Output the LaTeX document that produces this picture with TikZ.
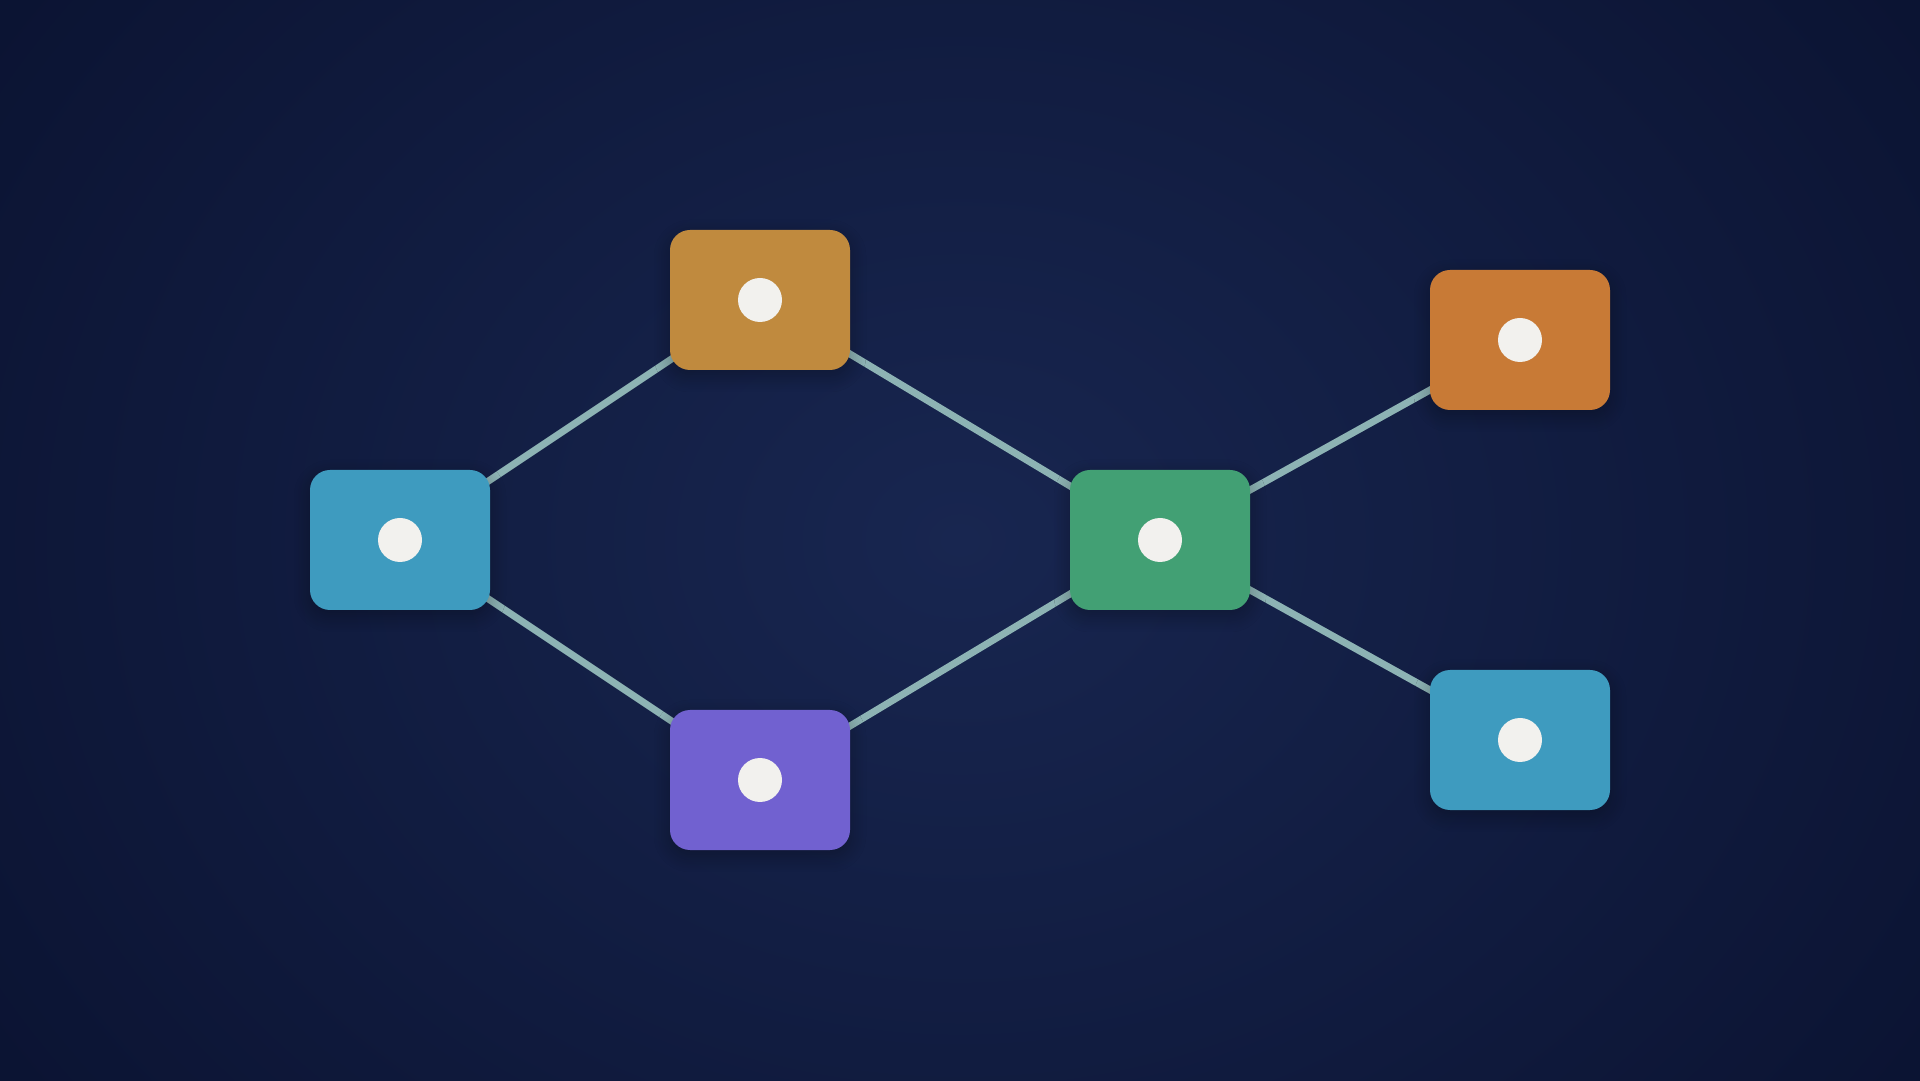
\documentclass[tikz,border=0pt]{standalone}
\usepackage{xcolor}
\usetikzlibrary{positioning,backgrounds,shadows.blur}

\definecolor{bgcenter}{HTML}{182650}
\definecolor{bgedge}{HTML}{0A1230}
\definecolor{linkcol}{HTML}{8DB3B4}
\definecolor{dotwhite}{HTML}{F2F1EE}
\definecolor{cblue}{HTML}{3E9BBF}
\definecolor{corange}{HTML}{C08A3E}
\definecolor{cpumpkin}{HTML}{C87A36}
\definecolor{cgreen}{HTML}{42A074}
\definecolor{cpurple}{HTML}{7161D0}

\begin{document}
\begin{tikzpicture}[x=1pt,y=1pt,node distance=360pt,on grid,
   box/.style={rectangle, rounded corners=20pt, minimum width=180pt, minimum height=140pt,
      inner sep=0pt, blur shadow={shadow xshift=0pt, shadow yshift=-6pt, shadow blur radius=16pt,
      shadow blur steps=10, shadow opacity=30},
      path picture={\fill[dotwhite] (path picture bounding box.center) circle (22pt);}},
   link/.style={linkcol, line width=7pt}]
   \useasboundingbox (0,0) rectangle (1920,1080);
   \node[box, fill=cblue] (L) at (400,540) {};
   \node[box, fill=corange] (T) [above right=240pt and 360pt of L] {};
   \node[box, fill=cpurple] (P) [below right=240pt and 360pt of L] {};
   \node[box, fill=cgreen] (G) [right=760pt of L] {};
   \node[box, fill=cpumpkin] (RT) [above right=200pt and 360pt of G] {};
   \node[box, fill=cblue] (RB) [below right=200pt and 360pt of G] {};
   \begin{pgfonlayer}{background}
   % background with vignette
   \shade[inner color=bgcenter, outer color=bgedge] (-300,-500) rectangle (2220,1580);
   \draw[link] (L.center) -- (T.center)
               (L.center) -- (P.center)
               (T.center) -- (G.center)
               (P.center) -- (G.center)
               (G.center) -- (RT.center)
               (G.center) -- (RB.center);
   \end{pgfonlayer}
\end{tikzpicture}
\end{document}
